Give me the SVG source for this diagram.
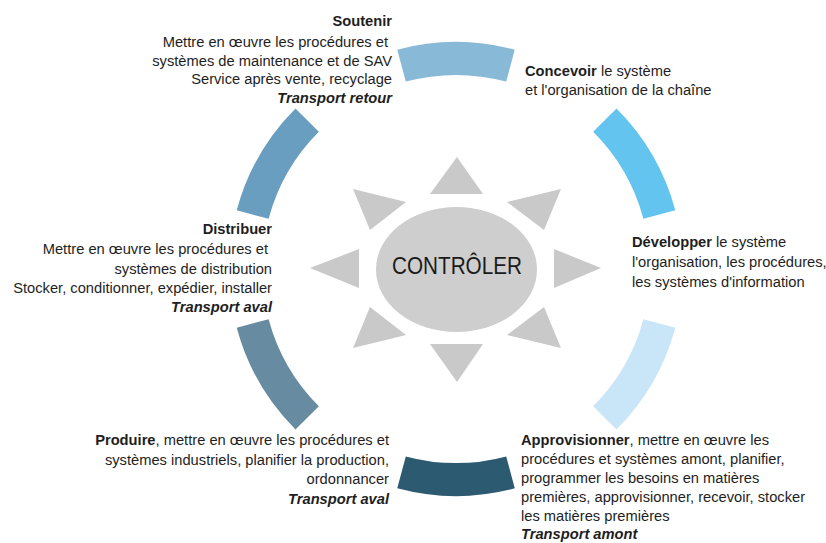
<svg xmlns="http://www.w3.org/2000/svg" width="826" height="543" viewBox="0 0 826 543">
  <style>
    text { font-family: "Liberation Sans", Arial, sans-serif; font-size: 14.7px; fill: #1e1e1e; }
    .end { text-anchor: end; }
    .b { font-weight: bold; }
    .bi { font-weight: bold; font-style: italic; }
    .arc { fill: none; stroke-width: 33; stroke-linecap: butt; }
    .ray { fill: #c9c9c9; }
    .core { fill: #cecece; }
    .title { font-size: 23px; text-anchor: middle; fill: #1a1a1a; }
  </style>

  <rect width="826" height="543" fill="#ffffff"/>

  <!-- Central "Contrôler" sun -->
  <g id="controler">
    <polygon class="ray" points="457,157 430,194 483,194"/>
    <polygon class="ray" points="457,382 430,344 483,344"/>
    <polygon class="ray" points="310,268 359,249 359,288"/>
    <polygon class="ray" points="601,268 554,249 554,288"/>
    <polygon class="ray" points="353,189 406,202 370,230"/>
    <polygon class="ray" points="561,189 507,202 544,230"/>
    <polygon class="ray" points="353,348 406,335 370,307"/>
    <polygon class="ray" points="561,348 507,335 544,307"/>
    <ellipse class="core" cx="456.5" cy="269.5" rx="80.5" ry="62.5"/>
    <text class="title" x="457" y="274" textLength="130" lengthAdjust="spacingAndGlyphs">CONTRÔLER</text>
  </g>

  <!-- Ring segments, centre (456,269), r = 210.5 -->
  <g id="soutenir">
    <path class="arc" stroke="#88b9d6" d="M401.52,65.67 A210.5,210.5 0 0 1 510.48,65.67"/>
    <text class="end b" x="392" y="26">Soutenir</text>
    <text class="end" x="388" y="47">Mettre en œuvre les procédures et</text>
    <text class="end" x="392" y="66">systèmes de maintenance et de SAV</text>
    <text class="end" x="392" y="84">Service après vente, recyclage</text>
    <text class="end bi" x="392" y="103">Transport retour</text>
  </g>

  <g id="concevoir">
    <text x="525" y="76"><tspan class="b">Concevoir</tspan> le système</text>
    <text x="525" y="95">et l'organisation de la chaîne</text>
  </g>

  <g id="developper">
    <path class="arc" stroke="#63c4ef" d="M604.85,120.15 A210.5,210.5 0 0 1 659.33,214.52"/>
    <text x="632" y="247"><tspan class="b">Développer</tspan> le système</text>
    <text x="632" y="267">l'organisation, les procédures,</text>
    <text x="632" y="287">les systèmes d'information</text>
  </g>

  <g id="approvisionner">
    <path class="arc" stroke="#c9e5f8" d="M659.33,323.48 A210.5,210.5 0 0 1 604.85,417.85"/>
    <text x="521" y="445"><tspan class="b">Approvisionner</tspan>, mettre en œuvre les</text>
    <text x="521" y="464">procédures et systèmes amont, planifier,</text>
    <text x="521" y="483">programmer les besoins en matières</text>
    <text x="521" y="502">premières, approvisionner, recevoir, stocker</text>
    <text x="521" y="521">les matières premières</text>
    <text class="bi" x="521" y="539">Transport amont</text>
  </g>

  <g id="produire">
    <path class="arc" stroke="#2c5a70" d="M510.48,472.33 A210.5,210.5 0 0 1 401.52,472.33"/>
    <path class="arc" stroke="#678ba1" d="M307.15,417.85 A210.5,210.5 0 0 1 252.67,323.48"/>
    <text class="end" x="389" y="445"><tspan class="b">Produire</tspan>, mettre en œuvre les procédures et</text>
    <text class="end" x="389" y="465">systèmes industriels, planifier la production,</text>
    <text class="end" x="389" y="484">ordonnancer</text>
    <text class="end bi" x="389" y="504">Transport aval</text>
  </g>

  <g id="distribuer">
    <path class="arc" stroke="#6a9ec0" d="M252.67,214.52 A210.5,210.5 0 0 1 307.15,120.15"/>
    <text class="end b" x="272" y="234">Distribuer</text>
    <text class="end" x="268" y="254">Mettre en œuvre les procédures et</text>
    <text class="end" x="272" y="274">systèmes de distribution</text>
    <text class="end" x="272" y="293">Stocker, conditionner, expédier, installer</text>
    <text class="end bi" x="272" y="312">Transport aval</text>
  </g>
</svg>
